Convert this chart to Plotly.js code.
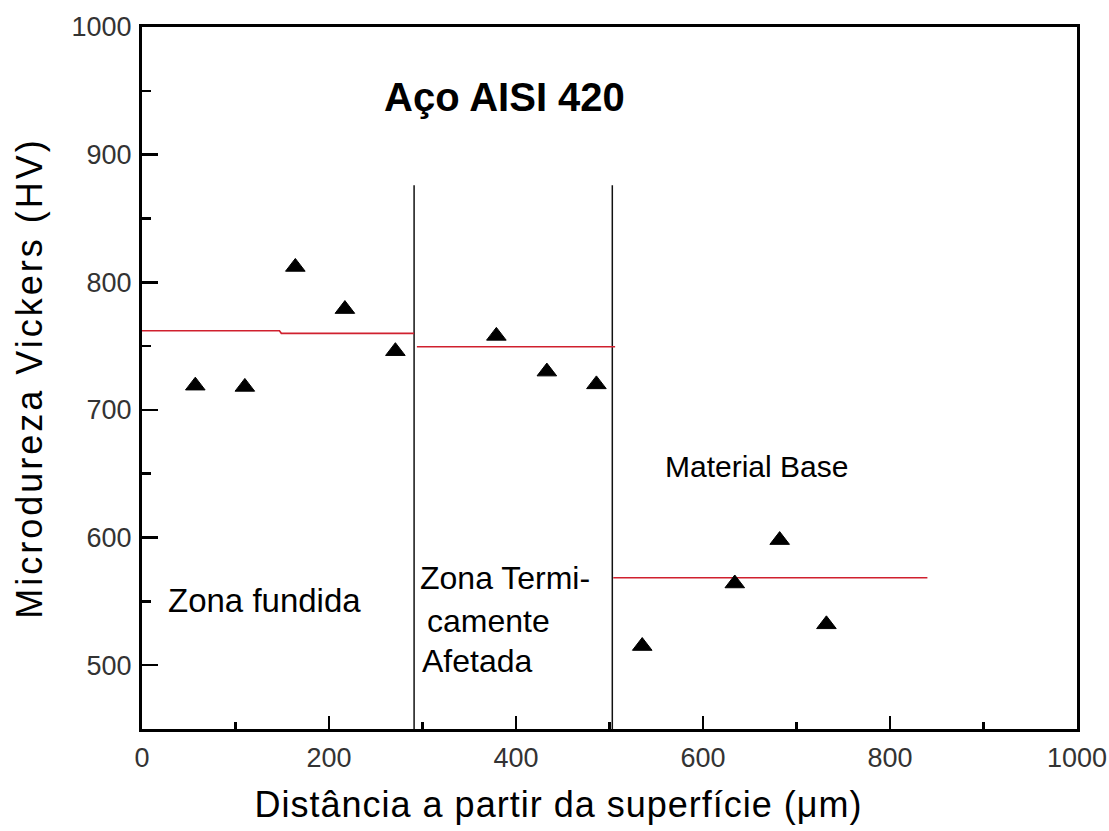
<!DOCTYPE html>
<html>
<head>
<meta charset="utf-8">
<script src="https://cdn.plot.ly/plotly-3.0.1.min.js"></script>
<style>
html,body{margin:0;padding:0;background:#fff;}
#chart .xtitle{letter-spacing:1px;transform:translate(-51px,0px);}
#chart .ytitle{letter-spacing:3px;}
</style>
</head>
<body>
<div id="chart" style="width:1109px;height:831px;"></div>
<script>
// Measured hardness points
const distance = [57, 110, 164, 217, 271, 379, 433, 486, 535, 634, 682, 732];
const hardness = [719, 718, 812, 779, 746, 758, 730, 720, 515, 564, 598, 532];

// Zone boundaries (vertical lines)
const boundary1X = [291, 291];
const boundary2X = [503, 503];
const boundaryY = [450, 876];

// Mean hardness per zone (red lines)
const meanFusedX = [0, 147, 149, 291];
const meanFusedY = [762, 762, 760, 760];
const meanHazX = [294, 506];
const meanHazY = [749.5, 749.5];
const meanBaseX = [504, 840];
const meanBaseY = [568.5, 568.5];

const xTicks = [0, 200, 400, 600, 800, 1000];
const yTicks = [500, 600, 700, 800, 900, 1000];

const FONT = '"Liberation Sans", Arial, sans-serif';
const red = '#d0202e';

const traces = [
  {x: boundary1X, y: boundaryY, mode: 'lines', line: {color: '#111', width: 1.5}, hoverinfo: 'skip'},
  {x: boundary2X, y: boundaryY, mode: 'lines', line: {color: '#111', width: 1.5}, hoverinfo: 'skip'},
  {x: meanFusedX, y: meanFusedY, mode: 'lines', line: {color: red, width: 1.6}},
  {x: meanHazX, y: meanHazY, mode: 'lines', line: {color: red, width: 1.6}},
  {x: meanBaseX, y: meanBaseY, mode: 'lines', line: {color: red, width: 1.6}},
  {x: distance, y: hardness, mode: 'markers',
   marker: {symbol: 'triangle-up', size: 17, color: '#000', line: {color: '#000', width: 1}}}
];

const layout = {
  width: 1109, height: 831,
  margin: {l: 142, r: 32, t: 27, b: 102},
  paper_bgcolor: '#fff', plot_bgcolor: '#fff',
  showlegend: false,
  font: {family: FONT, color: '#000'},
  xaxis: {
    range: [0, 1000], tickvals: xTicks, ticktext: xTicks.map(String),
    ticks: 'inside', ticklen: 13, tickwidth: 2.5, tickcolor: '#000',
    minor: {ticks: 'inside', ticklen: 7, tickwidth: 2.5, tickcolor: '#000', dtick: 100, tick0: 0, showgrid: false},
    showline: true, linewidth: 3, linecolor: '#000', mirror: true,
    showgrid: false, zeroline: false,
    ticklabelstandoff: 3,
    tickfont: {family: FONT, size: 27, color: '#333'},
    title: {text: 'Distância a partir da superfície (μm)', font: {family: FONT, size: 36, color: '#000'}, standoff: 20}
  },
  yaxis: {
    range: [450, 1000], tickvals: yTicks, ticktext: yTicks.map(String),
    ticks: 'inside', ticklen: 16, tickwidth: 2.5, tickcolor: '#000',
    minor: {ticks: 'inside', ticklen: 9, tickwidth: 2.5, tickcolor: '#000', dtick: 50, tick0: 450, showgrid: false},
    showline: true, linewidth: 3, linecolor: '#000', mirror: true,
    showgrid: false, zeroline: false,
    ticklabelstandoff: 2,
    tickfont: {family: FONT, size: 27, color: '#333'},
    title: {text: 'Microdureza Vickers (HV)', font: {family: FONT, size: 36, color: '#000'}, standoff: 18}
  },
  annotations: [
    {text: '<b>Aço AISI 420</b>', x: 388, y: 945, xref: 'x', yref: 'y', showarrow: false,
     font: {family: FONT, size: 40, color: '#000'}, xanchor: 'center', yanchor: 'middle'},
    {text: 'Zona fundida', x: 25.7, y: 551, xref: 'x', yref: 'y', showarrow: false,
     font: {family: FONT, size: 33, color: '#000'}, xanchor: 'left', yanchor: 'middle'},
    {text: 'Zona Termi-', x: 295, y: 568, xref: 'x', yref: 'y', showarrow: false,
     font: {family: FONT, size: 32, color: '#000'}, xanchor: 'left', yanchor: 'middle'},
    {text: 'camente', x: 303, y: 535, xref: 'x', yref: 'y', showarrow: false,
     font: {family: FONT, size: 32, color: '#000'}, xanchor: 'left', yanchor: 'middle'},
    {text: 'Afetada', x: 297, y: 503, xref: 'x', yref: 'y', showarrow: false,
     font: {family: FONT, size: 32, color: '#000'}, xanchor: 'left', yanchor: 'middle'},
    {text: 'Material Base', x: 557, y: 656, xref: 'x', yref: 'y', showarrow: false,
     font: {family: FONT, size: 30, color: '#000'}, xanchor: 'left', yanchor: 'middle'}
  ]
};

Plotly.newPlot('chart', traces, layout, {displayModeBar: false, staticPlot: true});
</script>
</body>
</html>
